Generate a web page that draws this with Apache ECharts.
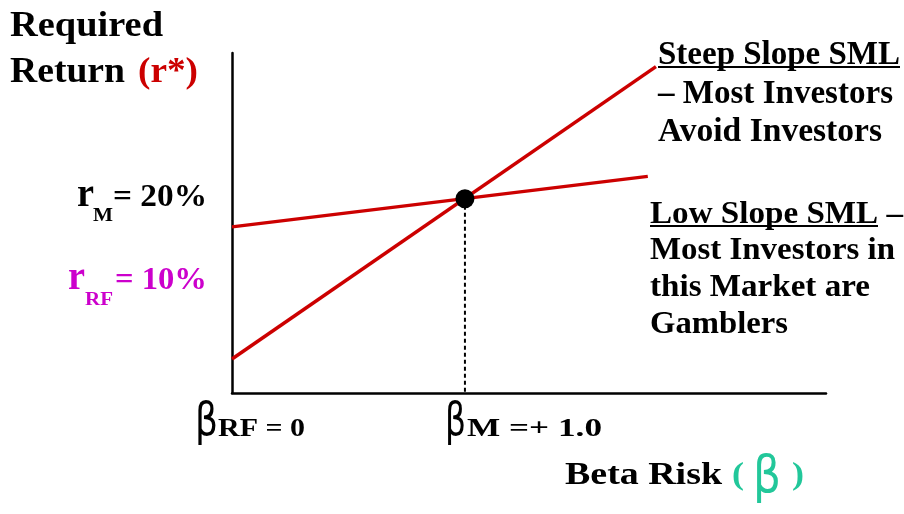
<!DOCTYPE html>
<html>
<head>
<meta charset="utf-8">
<script src="https://cdn.jsdelivr.net/npm/echarts@6/dist/echarts.min.js"></script>
<style>html,body{margin:0;padding:0;background:#fff}#c{width:904px;height:514px}</style>
</head>
<body>
<div id="c"></div>
<script>
// ---- data ----
const steepBeta = [0, 1.82];
const steepReturn = [3.5, 33.6];
const lowBeta = [0, 1.785];
const lowReturn = [17.1, 22.3];
const marketBeta = [1.0];
const marketReturn = [20];
const xRange = [0, 2.55];
const yRange = [0, 35];

const RED = '#CC0000', MAG = '#CC00CC', GREEN = '#22C79A';
const SERIF = '"Liberation Serif","Times New Roman",serif';

const mctx = document.createElement('canvas').getContext('2d');
function measure(text, font){ mctx.font = font; return mctx.measureText(text).width; }

// text placed by left edge and baseline, stretched to a target width
function txt(text, left, baseline, size, width, color, opts){
  opts = opts || {};
  const family = opts.family || SERIF;
  const weight = opts.weight || 'bold';
  const font = weight + ' ' + size + 'px ' + family;
  const w = measure(text, font);
  const sx = width ? width / w : 1;
  return {
    type: 'text', x: left, y: baseline - (opts.mid != null ? opts.mid : 0.23) * size,
    scaleX: sx, silent: true, z: 10,
    style: { text: text, x: 0, y: 0, font: font, fill: color || '#000', textAlign: 'left', textVerticalAlign: 'middle', verticalAlign: 'middle' }
  };
}
function uline(x1, x2, y){
  return { type: 'line', silent: true, z: 10, shape: { x1: x1, y1: y, x2: x2, y2: y }, style: { stroke: '#000', lineWidth: 2 } };
}
const HAND = { family: '"DejaVu Sans",sans-serif', weight: 'normal', mid: 0.3 };

const graphics = [
  txt('Required', 10, 35, 36, 153),
  txt('Return', 10, 81, 36, 115),
  txt('(r*)', 138, 81, 36, 60, RED),

  txt('Steep Slope SML', 658, 63, 33, 242), uline(658, 900, 67),
  txt('\u2013 Most Investors', 658, 102, 33, 235),
  txt('Avoid Investors', 658, 140, 33, 224),

  txt('Low Slope SML \u2013', 650, 222, 32, 253), uline(650, 878, 226),
  txt('Most Investors in', 650, 258, 32, 245),
  txt('this Market are', 650, 295, 32, 220),
  txt('Gamblers', 650, 332, 32, 138),

  txt('r', 77, 205, 40, 17),
  txt('M', 93, 220, 18, 20),
  txt('= 20%', 113, 205, 32, 94),

  txt('r', 68, 288, 40, 17, MAG),
  txt('RF', 85, 304, 18, 28, MAG),
  txt('= 10%', 115, 288, 32, 92, MAG),

  txt('\u03B2', 195, 437, 46, 23, '#000', HAND),
  txt('RF = 0', 218, 435, 25, 87),
  txt('\u03B2', 445, 437, 46, 21, '#000', HAND),
  txt('M =+ 1.0', 467, 435, 25, 135),

  txt('Beta Risk', 565, 483, 32, 157),
  txt('(', 732, 483, 32, 12, GREEN),
  txt('\u03B2', 753, 494, 52, 28, GREEN, HAND),
  txt(')', 792, 483, 32, 12, GREEN)
];

const chart = echarts.init(document.getElementById('c'), null, { renderer: 'canvas' });
const axisCommon = {
  type: 'value', axisTick: { show: false }, axisLabel: { show: false }, splitLine: { show: false },
  axisLine: { show: true, lineStyle: { color: '#000', width: 2.5 } }
};
chart.setOption({
  animation: false,
  backgroundColor: '#fff',
  grid: { left: 232, top: 53, width: 594, height: 340 },
  xAxis: Object.assign({}, axisCommon, { min: xRange[0], max: xRange[1] }),
  yAxis: Object.assign({}, axisCommon, { min: yRange[0], max: yRange[1] }),
  series: [
    { type: 'line', name: 'Steep SML', symbol: 'none', data: steepBeta.map((b, i) => [b, steepReturn[i]]),
      lineStyle: { color: RED, width: 3.5 }, z: 3 },
    { type: 'line', name: 'Low SML', symbol: 'none', data: lowBeta.map((b, i) => [b, lowReturn[i]]),
      lineStyle: { color: RED, width: 3.5 }, z: 3 },
    { type: 'line', name: 'Market beta', symbol: 'none', data: [[marketBeta[0], marketReturn[0]], [marketBeta[0], yRange[0]]],
      lineStyle: { color: '#000', width: 2, type: [4, 3] }, z: 2 },
    { type: 'scatter', name: 'Market', symbolSize: 19, data: marketBeta.map((b, i) => [b, marketReturn[i]]),
      itemStyle: { color: '#000', opacity: 1 }, z: 4 }
  ],
  graphic: graphics
});
</script>
</body>
</html>
